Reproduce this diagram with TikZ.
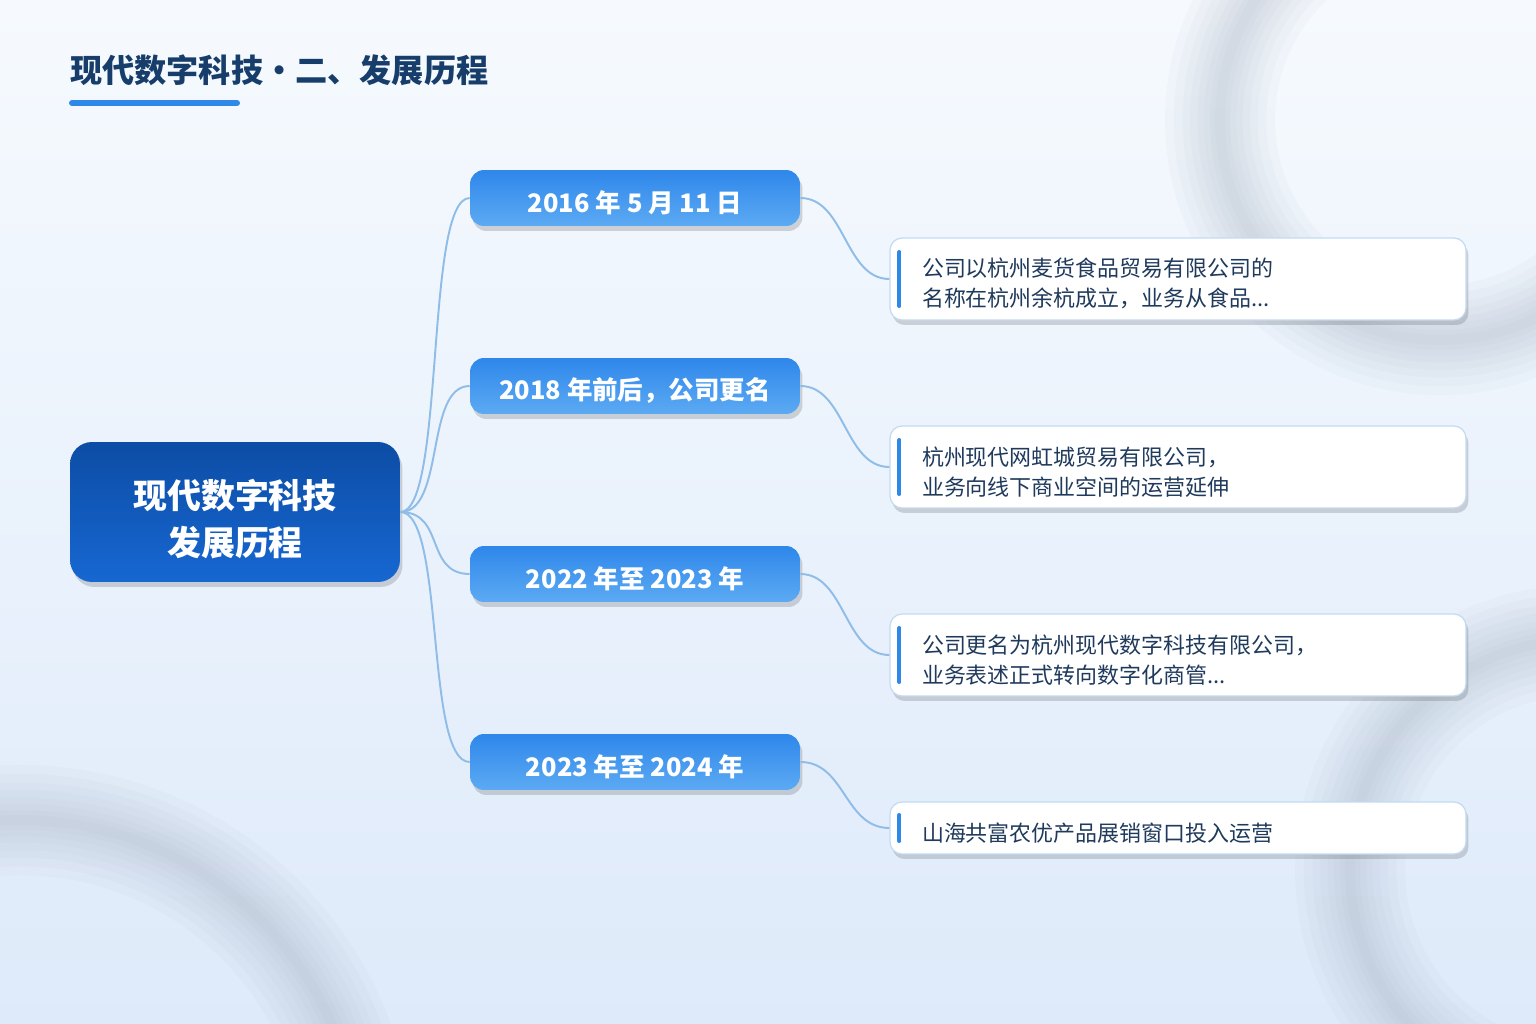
\documentclass[tikz,border=0pt]{standalone}
\usepackage{fontspec}
\setmainfont{Noto Sans CJK SC}
\usetikzlibrary{shadows}
\definecolor{bgtop}{HTML}{F6FAFE}
\definecolor{bgbot}{HTML}{DEEAFA}
\definecolor{ringgray}{HTML}{A4B0C0}
\definecolor{navy}{HTML}{173D6B}
\definecolor{hubtop}{HTML}{0C4DA5}
\definecolor{hubbot}{HTML}{1767D2}
\definecolor{datetop}{HTML}{2E87EA}
\definecolor{datebot}{HTML}{5CAAF3}
\definecolor{linkblue}{HTML}{8FBDE8}
\definecolor{edgeblue}{HTML}{C2DBF3}
\definecolor{accentblue}{HTML}{2E88E8}
\definecolor{deskink}{HTML}{1F3A5C}

\begin{document}
\begin{tikzpicture}[x=0.02cm, y=-0.02cm,
    boxshadow/.style={drop shadow={shadow xshift=0.05cm, shadow yshift=-0.1cm, opacity=0.22, fill=black!70}},
    hub/.style={rounded corners=0.44cm, minimum width=6.6cm, minimum height=2.8cm, top color=hubtop, bottom color=hubbot, text=white, font=\fontsize{19.3}{26.6}\selectfont\bfseries, align=center, boxshadow},
    datebox/.style={rounded corners=0.28cm, minimum width=6.6cm, minimum height=1.12cm, top color=datetop, bottom color=datebot, text=white, font=\fontsize{14.5}{17}\selectfont\bfseries, execute at begin node={\rule{0pt}{17.6pt}}, boxshadow},
    descbox/.style={draw=edgeblue, line width=0.7pt, fill=white, rounded corners=0.24cm, minimum width=11.52cm, text width=10.24cm, inner xsep=0.64cm, align=left, text=deskink, font=\fontsize{12.5}{17}\selectfont, execute at begin node={\rule{0pt}{16pt}}, boxshadow},
    link/.style={draw=linkblue, line width=1.1pt},
    accent/.style={draw=accentblue, line width=2.3pt, line cap=round},
    ring/.style={draw=ringgray, opacity=0.06},
]
\useasboundingbox (0,0) rectangle (1536,1024);
\fill[top color=bgtop, bottom color=bgbot] (0,0) rectangle (1536,1024);
\begin{scope}
\clip (0,0) rectangle (1536,1024);
\foreach \w in {2.2,1.85,1.5,1.2,0.9,0.65,0.4,0.2}{
  \draw[ring, line width=\w cm] (1440,120) circle[radius=4.4cm];
  \draw[ring, line width=\w cm] (20,1160) circle[radius=6.8cm];
  \draw[ring, line width=\w cm] (1580,870) circle[radius=4.6cm];
}
\end{scope}

\node[anchor=west, inner sep=0, text=navy, font=\fontsize{18.3}{20}\selectfont\bfseries] (title) at (70,70) {现代数字科技・二、发展历程};
\draw[accentblue, line width=3.4pt, line cap=round] (72,103) -- (237,103);

\node[hub] (hub) at (235,512) {\rule{0pt}{25pt}现代数字科技\\发展历程};

\node[datebox] (d1) at (635,198) {2016 年 5 月 11 日};
\node[datebox] (d2) at (635,386) {2018 年前后，公司更名};
\node[datebox] (d3) at (635,574) {2022 年至 2023 年};
\node[datebox] (d4) at (635,762) {2023 年至 2024 年};

\node[descbox, minimum height=1.64cm] (t1) at (1178,279) {公司以杭州麦货食品贸易有限公司的\\名称在杭州余杭成立，业务从食品...};
\node[descbox, minimum height=1.64cm] (t2) at (1178,467) {杭州现代网虹城贸易有限公司，\\业务向线下商业空间的运营延伸};
\node[descbox, minimum height=1.64cm] (t3) at (1178,655) {公司更名为杭州现代数字科技有限公司，\\业务表述正式转向数字化商管...};
\node[descbox, minimum height=1.04cm] (t4) at (1178,828) {山海共富农优产品展销窗口投入运营};

\draw[accent] ([xshift=0.2cm,yshift=0.54cm]t1.west) -- ([xshift=0.2cm,yshift=-0.54cm]t1.west);
\draw[accent] ([xshift=0.2cm,yshift=0.54cm]t2.west) -- ([xshift=0.2cm,yshift=-0.54cm]t2.west);
\draw[accent] ([xshift=0.2cm,yshift=0.54cm]t3.west) -- ([xshift=0.2cm,yshift=-0.54cm]t3.west);
\draw[accent] ([xshift=0.2cm,yshift=0.26cm]t4.west) -- ([xshift=0.2cm,yshift=-0.26cm]t4.west);

\draw[link] (hub.east) .. controls +(45,0) and +(-45,0) .. (d1.west);
\draw[link] (hub.east) .. controls +(45,0) and +(-45,0) .. (d2.west);
\draw[link] (hub.east) .. controls +(45,0) and +(-45,0) .. (d3.west);
\draw[link] (hub.east) .. controls +(45,0) and +(-45,0) .. (d4.west);

\draw[link] (d1.east) .. controls +(45,0) and +(-45,0) .. (t1.west);
\draw[link] (d2.east) .. controls +(45,0) and +(-45,0) .. (t2.west);
\draw[link] (d3.east) .. controls +(45,0) and +(-45,0) .. (t3.west);
\draw[link] (d4.east) .. controls +(45,0) and +(-45,0) .. (t4.west);
\end{tikzpicture}
\end{document}
